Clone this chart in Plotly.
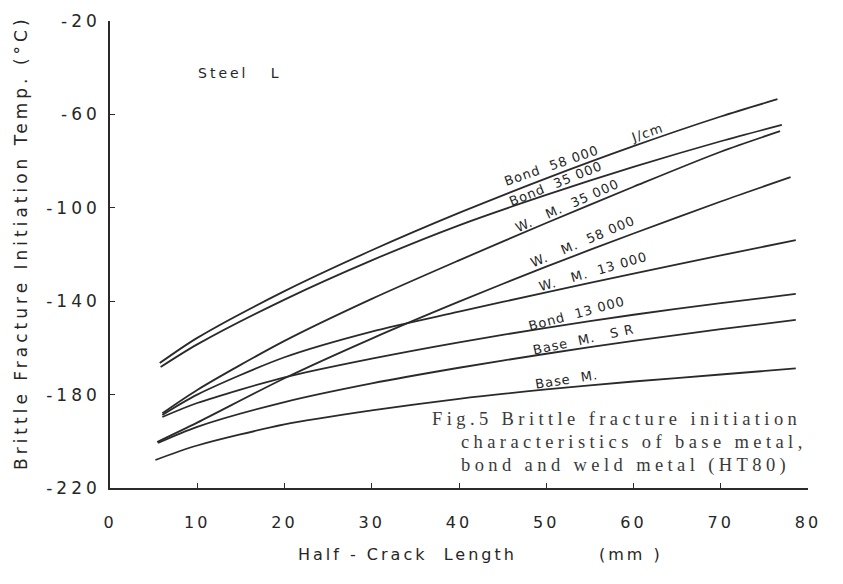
import plotly.graph_objects as go

# Half-crack length (mm) against brittle fracture initiation temperature (deg C)
bond_58000_x = [5.7, 10, 20, 30, 40, 50, 60, 70, 76.5]
bond_58000_t = [-166.5, -155.7, -135.7, -118.2, -102.2, -87.4, -73.6, -60.9, -53.5]

bond_35000_x = [5.8, 10, 20, 30, 40, 50, 60, 70, 77]
bond_35000_t = [-168.2, -158.5, -139.3, -122.5, -107.5, -94.5, -82.5, -71.5, -64.5]

wm_35000_x = [6, 10, 20, 30, 40, 50, 60, 70, 76.8]
wm_35000_t = [-188, -178, -157, -139, -122.5, -106.5, -91, -76, -67.2]

wm_58000_x = [5.4, 10, 20, 30, 40, 50, 60, 70, 78]
wm_58000_t = [-200.3, -192, -173, -156, -140.2, -125.2, -111, -97.3, -86.9]

wm_13000_x = [6, 10, 20, 30, 40, 50, 60, 70, 78.6]
wm_13000_t = [-188.7, -180, -164, -153, -144.5, -136.2, -128.2, -120.4, -113.8]

bond_13000_x = [6, 10, 20, 30, 40, 50, 60, 70, 78.6]
bond_13000_t = [-189.6, -183.6, -172.6, -164.6, -157.6, -151.4, -145.8, -140.8, -136.9]

base_sr_x = [5.5, 10, 20, 30, 40, 50, 60, 70, 78.6]
base_sr_t = [-200.7, -193.8, -183.2, -175.2, -168.5, -162.5, -157, -152, -148]

base_x = [5.2, 10, 20, 30, 40, 50, 60, 70, 78.6]
base_t = [-208, -201.8, -192.8, -186.8, -181.8, -177.8, -174.4, -171.4, -168.8]

# Axis ticks
x_tick_vals = [0, 10, 20, 30, 40, 50, 60, 70, 80]
x_tick_text = ["0", "10", "20", "30", "40", "50", "60", "70", "80"]
y_tick_vals = [-220, -180, -140, -100, -60, -20]
y_tick_text = ["-220", "-180", "-140", "-100", "-60", "-20"]

# Curve labels: text, x, y, angle
curve_labels = [
    ("Bond  58 000       J/cm", 54.3, -77.0, -19),
    ("Bond  35 000", 51.1, -89.4, -22),
    ("W.   M.  35 000", 52.4, -98.8, -24),
    ("W.   M.  58 000", 54.2, -114.6, -23),
    ("W.   M.  13 000", 55.4, -127.1, -16),
    ("Bond  13 000", 53.5, -145.1, -15),
    ("Base  M.   S R", 54.3, -156.6, -12),
    ("Base  M.", 52.3, -173.7, -9),
]

caption_lines = [
    "Fig.5 Brittle fracture initiation",
    "characteristics of base metal,",
    "bond and weld metal (HT80)",
]

INK = "#262626"
SANS = "DejaVu Sans"


def spaced(text, px):
    return f'<span style="letter-spacing:{px}px">{text}</span>'


series = [
    (bond_58000_x, bond_58000_t),
    (bond_35000_x, bond_35000_t),
    (wm_35000_x, wm_35000_t),
    (wm_58000_x, wm_58000_t),
    (wm_13000_x, wm_13000_t),
    (bond_13000_x, bond_13000_t),
    (base_sr_x, base_sr_t),
    (base_x, base_t),
]

fig = go.Figure()
for xs, ts in series:
    fig.add_trace(go.Scatter(
        x=xs, y=ts, mode="lines",
        line=dict(color="#2a2a2a", width=1.8, shape="spline", smoothing=0.8),
        showlegend=False, hoverinfo="skip",
    ))

annotations = []
for text, ax_x, ax_y, ang in curve_labels:
    annotations.append(dict(
        x=ax_x, y=ax_y, xref="x", yref="y", text=spaced(text, 1),
        textangle=ang, showarrow=False,
        font=dict(family=SANS, size=13, color=INK),
    ))

annotations.append(dict(
    x=14.9, y=-42.3, xref="x", yref="y", text=spaced("Steel   L", 3),
    showarrow=False, font=dict(family=SANS, size=14, color=INK),
))

caption_pos = [(430, 419), (459, 442), (459, 465)]
for line, (px, py) in zip(caption_lines, caption_pos):
    annotations.append(dict(
        x=(px - 110) / 698, y=(488 - py) / 467, xref="paper", yref="paper",
        xanchor="left", yanchor="middle", text=spaced(line, 4.4), showarrow=False,
        font=dict(family="Liberation Serif", size=18.5, color="#3a3a3a"),
    ))

annotations.append(dict(
    x=(296 - 110) / 698, y=(488 - 566) / 467, xref="paper", yref="paper",
    xanchor="left", text=spaced("Half - Crack  Length", 3), showarrow=False,
    font=dict(family=SANS, size=16, color=INK),
))
annotations.append(dict(
    x=(597 - 110) / 698, y=(488 - 566) / 467, xref="paper", yref="paper",
    xanchor="left", text=spaced("(mm )", 3), showarrow=False,
    font=dict(family=SANS, size=16, color=INK),
))
annotations.append(dict(
    x=(9 - 110) / 698, y=(488 - 243) / 467, xref="paper", yref="paper",
    text=spaced("Brittle Fracture Initiation Temp. (°C)", 4),
    textangle=-90, showarrow=False,
    font=dict(family=SANS, size=17, color=INK),
))

fig.update_layout(
    width=843, height=584,
    margin=dict(l=110, r=35, t=21, b=96),
    paper_bgcolor="white", plot_bgcolor="white",
    annotations=annotations,
    xaxis=dict(
        range=[0, 80], tickvals=x_tick_vals,
        ticktext=[spaced(t, 3) for t in x_tick_text],
        showline=True, linecolor="#2a2a2a", linewidth=1.6,
        ticks="inside", ticklen=5, tickcolor="#2a2a2a",
        showgrid=False, zeroline=False, ticklabelstandoff=19,
        tickfont=dict(family=SANS, size=16, color=INK),
    ),
    yaxis=dict(
        range=[-220, -20], tickvals=y_tick_vals,
        ticktext=[spaced(t, 4) for t in y_tick_text],
        showline=True, linecolor="#2a2a2a", linewidth=1.6,
        ticks="inside", ticklen=5, tickcolor="#2a2a2a",
        showgrid=False, zeroline=False, ticklabelstandoff=4,
        tickfont=dict(family=SANS, size=17, color=INK),
    ),
)

fig.write_html("out.html")
